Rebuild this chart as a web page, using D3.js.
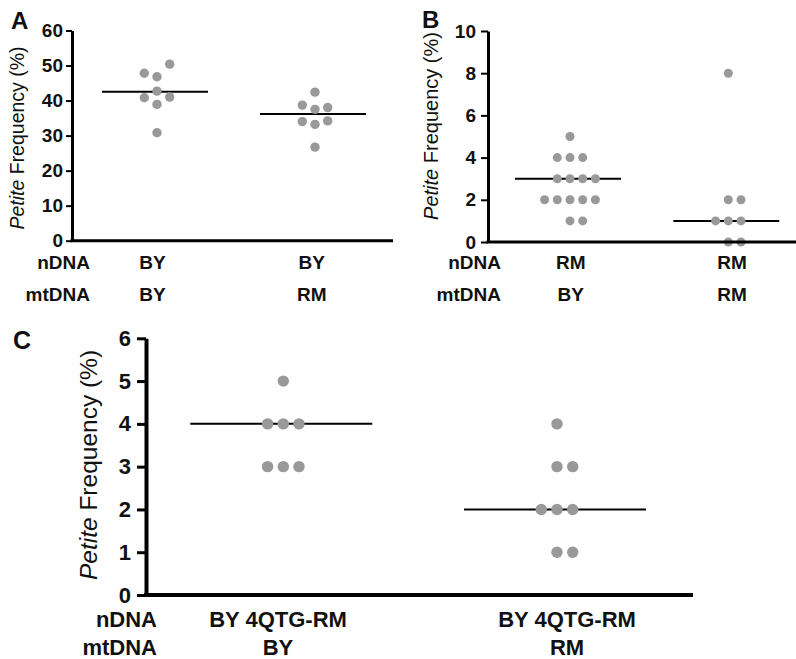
<!DOCTYPE html>
<html lang="en">
<head>
	<meta charset="utf-8">
	<title>Petite frequency</title>
	<script src="https://cdn.jsdelivr.net/npm/d3@7"></script>
	<style>
		body { margin: 0; background: white; }
		svg text { font-family: "Liberation Sans", Arial, Helvetica, sans-serif; fill: #111; }
	</style>
</head>
<body>
<div id="chart"></div>
<script type="text/javascript">

	// ---- data ----
	// panel A
	var nDNA_A = ["BY", "BY"];
	var mtDNA_A = ["BY", "RM"];
	var valuesA = [[47.8, 46.8, 50.4, 42.7, 40.8, 41.0, 38.9, 30.8],
	               [42.4, 38.7, 37.5, 38.0, 34.0, 33.2, 34.2, 26.7]];
	var colsA = [[-1, 0, 1, 0, -1, 1, 0, 0],
	             [0, -1, 0, 1, -1, 0, 1, 0]];
	var linesA = [42.5, 36.2];
	var ticksA = [0, 10, 20, 30, 40, 50, 60];

	// panel B
	var nDNA_B = ["RM", "RM"];
	var mtDNA_B = ["BY", "RM"];
	var valuesB = [[5, 4, 4, 4, 3, 3, 3, 3, 2, 2, 2, 2, 2, 1, 1],
	               [8, 2, 2, 1, 1, 1, 0, 0]];
	var colsB = [[0, -1, 0, 1, -1, 0, 1, 2, -2, -1, 0, 1, 2, 0, 1],
	             [0, 0, 1, -1, 0, 1, 0, 1]];
	var linesB = [3, 1];
	var ticksB = [0, 2, 4, 6, 8, 10];

	// panel C
	var nDNA_C = ["BY 4QTG-RM", "BY 4QTG-RM"];
	var mtDNA_C = ["BY", "RM"];
	var valuesC = [[5, 4, 4, 4, 3, 3, 3],
	               [4, 3, 3, 2, 2, 2, 1, 1]];
	var colsC = [[0, -1, 0, 1, -1, 0, 1],
	             [0, 0, 1, -1, 0, 1, 0, 1]];
	var linesC = [4, 2];
	var ticksC = [0, 1, 2, 3, 4, 5, 6];

	var svg = d3.select("#chart")
		.append("svg")
		.attr("width", 796)
		.attr("height", 659);

	// draws one dot-plot panel; layout holds pixel positions only
	function drawPanel(p){
		var g = svg.append("g");
		var groups = [0, 1];

		var yScale = d3.scaleLinear()
			.domain([0, p.ticks[p.ticks.length - 1]])
			.range([p.bottom, p.top]);

		// dot column centres and label centres
		var xScale = d3.scalePoint().domain(groups).range(p.dotX);
		var labelX = d3.scalePoint().domain(groups).range(p.labX);

		// mean lines
		g.selectAll("line.mean")
			.data(groups)
			.enter()
				.append("line")
				.attr("class", "mean")
				.attr("x1", function(d){ return xScale(d) - p.lineHalf - 2; })
				.attr("x2", function(d){ return xScale(d) + p.lineHalf - 2; })
				.attr("y1", function(d){ return yScale(p.lines[d]); })
				.attr("y2", function(d){ return yScale(p.lines[d]); })
				.attr("stroke", "#000")
				.attr("stroke-width", 2);

		// dots
		var pts = [];
		groups.forEach(function(gi){
			p.values[gi].forEach(function(v, j){
				pts.push({g: gi, v: v, c: p.cols[gi][j]});
			});
		});
		g.selectAll("circle")
			.data(pts)
			.enter()
				.append("circle")
				.attr("cx", function(d){ return xScale(d.g) + d.c * p.step; })
				.attr("cy", function(d){ return yScale(d.v); })
				.attr("r", p.r)
				.attr("fill", "#999");

		// y axis
		var yAxis = d3.axisLeft(yScale)
			.tickValues(p.ticks)
			.tickFormat(d3.format("d"))
			.tickSize(p.tickLen)
			.tickSizeOuter(0)
			.tickPadding(p.tickPad);
		var ya = g.append("g")
			.attr("transform", "translate(" + p.left + ",0)")
			.call(yAxis);
		ya.select(".domain").attr("stroke", "#000").attr("stroke-width", p.axisW);
		ya.selectAll(".tick line").attr("stroke", "#000").attr("stroke-width", p.axisW - 1);
		ya.selectAll(".tick text")
			.attr("font-size", p.tickFont)
			.attr("font-weight", "bold")
			.attr("fill", "#111")
			.style("font-family", "Liberation Sans, Arial, sans-serif");

		// x axis line
		g.append("line")
			.attr("x1", p.left - p.axisW / 2)
			.attr("x2", p.right)
			.attr("y1", yScale(0))
			.attr("y2", yScale(0))
			.attr("stroke", "#000")
			.attr("stroke-width", p.axisW);

		// y label
		var yl = g.append("text")
			.attr("transform", "translate(" + p.ylabX + "," + p.ylabY + ") rotate(-90)")
			.attr("text-anchor", "middle")
			.attr("dy", "0.35em")
			.attr("font-size", p.ylabFont);
		yl.append("tspan").attr("font-style", "italic").text("Petite");
		yl.append("tspan").text(" Frequency (%)");

		// panel letter
		g.append("text")
			.attr("x", p.letterX)
			.attr("y", p.letterY)
			.attr("font-size", p.letterFont)
			.attr("font-weight", "bold")
			.text(p.letter);

		// genotype rows
		var rows = [["nDNA", p.nDNA, p.row1], ["mtDNA", p.mtDNA, p.row2]];
		rows.forEach(function(r){
			g.append("text")
				.attr("x", p.rowLabX)
				.attr("y", r[2])
				.attr("text-anchor", "end")
				.attr("font-size", p.catFont)
				.attr("font-weight", "bold")
				.text(r[0]);
			g.selectAll(null)
				.data(groups)
				.enter()
					.append("text")
					.attr("x", function(d){ return labelX(d); })
					.attr("y", r[2])
					.attr("text-anchor", "middle")
					.attr("font-size", p.catFont)
					.attr("font-weight", "bold")
					.text(function(d){ return r[1][d]; });
		});
	}

	drawPanel({
		letter: "A", values: valuesA, cols: colsA, lines: linesA, ticks: ticksA,
		nDNA: nDNA_A, mtDNA: mtDNA_A,
		top: 30.5, bottom: 240.7, left: 72, right: 393,
		dotX: [157, 315], labX: [152.5, 311.7], step: 12.7, r: 4.7, lineHalf: 53,
		tickLen: 6, tickPad: 3, tickFont: 19, axisW: 3,
		ylabX: 17, ylabY: 138, ylabFont: 19.5,
		letterX: 11, letterY: 29, letterFont: 24,
		rowLabX: 90, row1: 269, row2: 301, catFont: 19
	});

	drawPanel({
		letter: "B", values: valuesB, cols: colsB, lines: linesB, ticks: ticksB,
		nDNA: nDNA_B, mtDNA: mtDNA_B,
		top: 31, bottom: 242, left: 488, right: 796,
		dotX: [570, 728.3], labX: [570.7, 732], step: 12.7, r: 4.5, lineHalf: 53,
		tickLen: 7, tickPad: 5, tickFont: 19, axisW: 3,
		ylabX: 431, ylabY: 126, ylabFont: 20,
		letterX: 422, letterY: 28, letterFont: 24,
		rowLabX: 501, row1: 269, row2: 301, catFont: 19
	});

	drawPanel({
		letter: "C", values: valuesC, cols: colsC, lines: linesC, ticks: ticksC,
		nDNA: nDNA_C, mtDNA: mtDNA_C,
		top: 338.3, bottom: 595, left: 146, right: 693,
		dotX: [283.3, 557], labX: [278, 567], step: 15.7, r: 5.7, lineHalf: 91,
		tickLen: 9, tickPad: 6, tickFont: 22, axisW: 4,
		ylabX: 88, ylabY: 465, ylabFont: 24.5,
		letterX: 13, letterY: 349, letterFont: 25,
		rowLabX: 157, row1: 627, row2: 655, catFont: 22
	});

</script>
</body>
</html>
